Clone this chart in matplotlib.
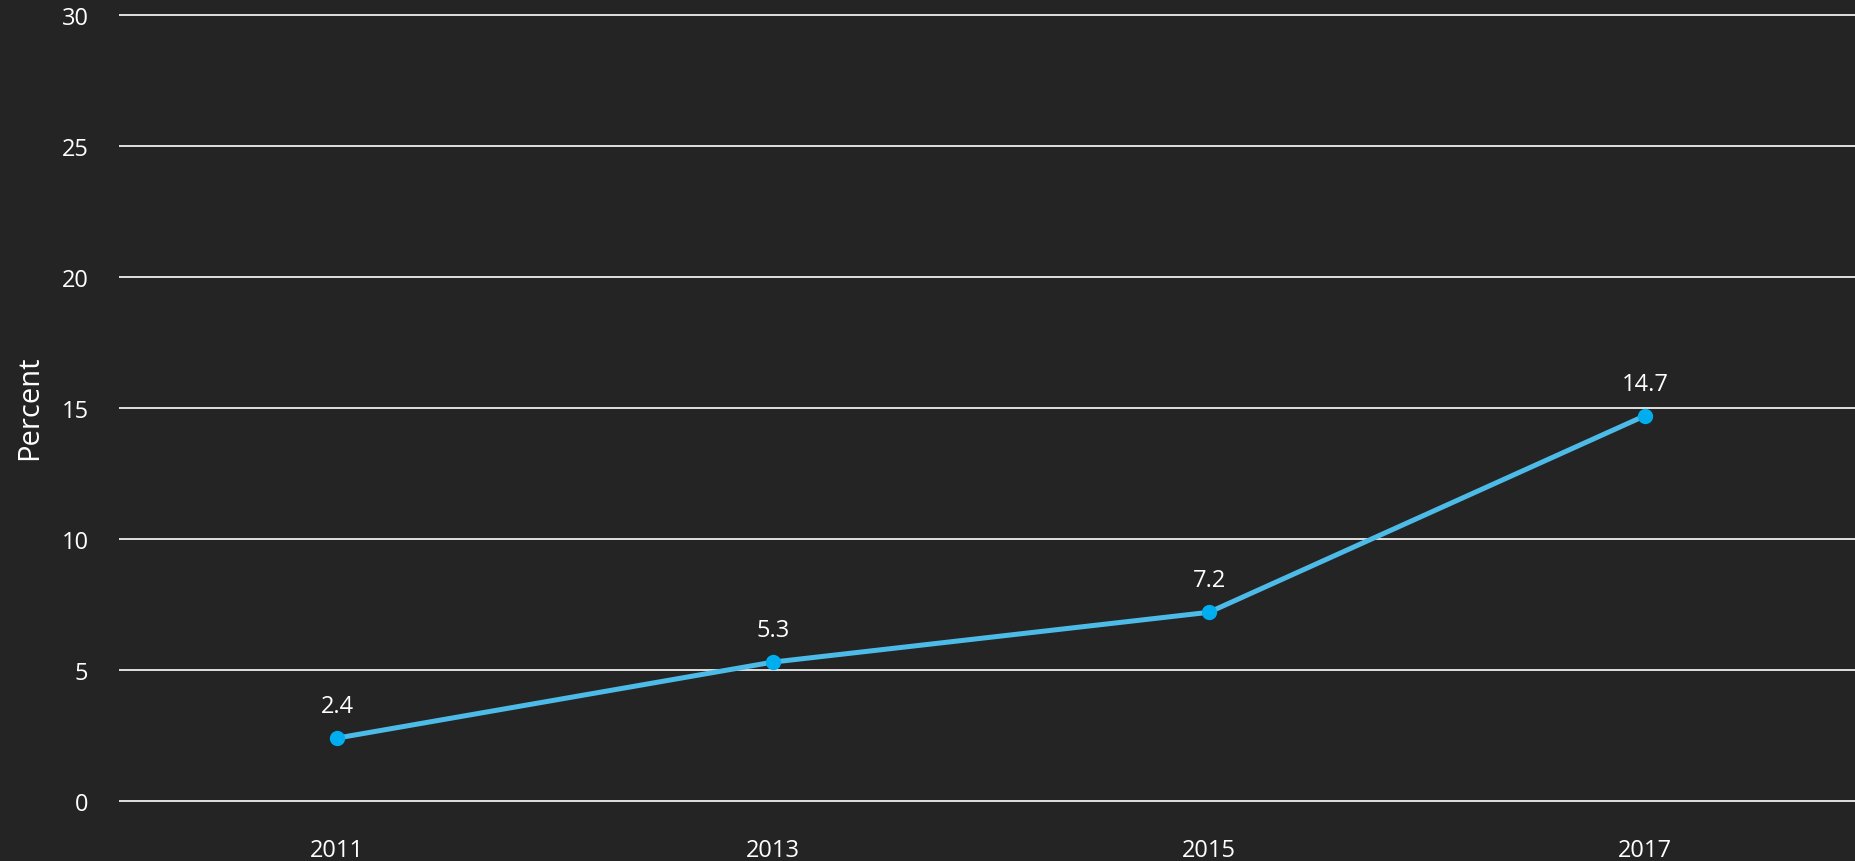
import matplotlib
matplotlib.use("Agg")
import matplotlib.pyplot as plt
import numpy as np

years = ["2011", "2013", "2015", "2017"]
values = [2.4, 5.3, 7.2, 14.7]
yticks = [0, 5, 10, 15, 20, 25, 30]
ylabel = "Percent"

plt.rcParams['font.family'] = ['Open Sans', 'DejaVu Sans']

W, H = 1855, 862
fig = plt.figure(figsize=(W/100, H/100), dpi=100)
bg = '#242424'
fig.patch.set_facecolor(bg)

pad = 0.5
y0_px, y30_px = 802.0, 15.7
ppu = (y0_px - y30_px) / 30
bottom = (H - y0_px - pad*ppu) / H
top = (H - y30_px + pad*ppu) / H
left = 119 / W
ax = fig.add_axes([left, bottom, 1 - left, top - bottom])
ax.set_facecolor(bg)
ax.set_ylim(-pad, 30 + pad)

step = 436.0
x0 = 337.0
ax.set_xlim(-(x0 - 119) / step, 3 + (W - (x0 + 3*step)) / step)

for t in yticks:
    ax.axhline(t, color='white', lw=1.2, zorder=1)

xs = np.arange(len(years))
ax.plot(xs, values, color='#4dbbe8', lw=3.6, zorder=3)
ax.plot(xs, values, 'o', color='#00aeef', ms=10, zorder=4)
for x, v in zip(xs, values):
    ax.annotate(f"{v}", (x, v), xytext=(0, 23), textcoords='offset points',
                ha='center', va='center', color='white', fontsize=17)

ax.set_xticks(xs)
ax.set_xticklabels(years)
ax.set_yticks(yticks)
ax.set_yticklabels([str(t) for t in yticks])
ax.tick_params(axis='both', length=0, colors='white', labelsize=17)
ax.tick_params(axis='y', pad=22)
ax.tick_params(axis='x', pad=17)
for s in ax.spines.values():
    s.set_visible(False)

fig.text(30/W, 1 - 408/H, ylabel, rotation=90, ha='center', va='center',
         color='white', fontsize=21)

fig.savefig('out.png', dpi=100, facecolor=fig.get_facecolor())
